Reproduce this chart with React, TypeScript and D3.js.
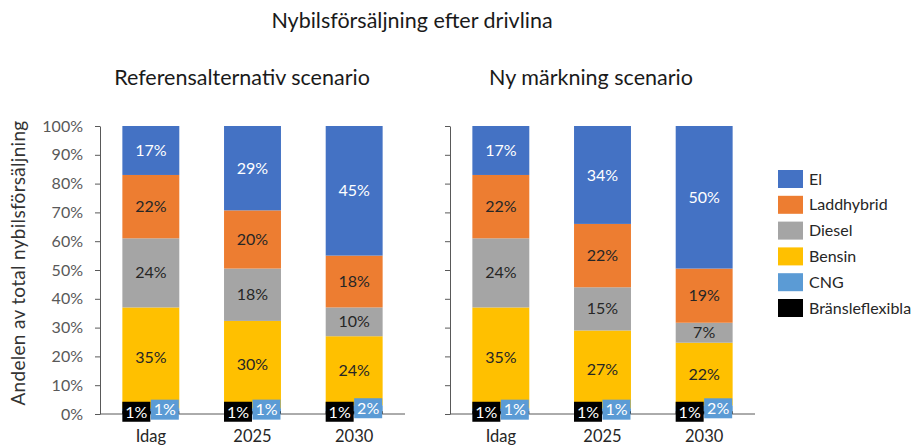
import React, { useEffect, useRef } from "react";
import * as d3 from "d3";

const categories = ["Idag", "2025", "2030"];
const seriesNames = ["Bränsleflexibla", "CNG", "Bensin", "Diesel", "Laddhybrid", "El"];
const seriesColors = ["#000000", "#5b9bd5", "#ffc000", "#a5a5a5", "#ed7d31", "#4472c4"];

// percentages per category (Idag, 2025, 2030)
const refFlex = [1, 1, 1];
const refCng = [1, 1, 2];
const refBensin = [35, 30, 24];
const refDiesel = [24, 18, 10];
const refLadd = [22, 20, 18];
const refEl = [17, 29, 45];

const nyFlex = [1, 1, 1];
const nyCng = [1, 1, 2];
const nyBensin = [35, 27, 22];
const nyDiesel = [24, 15, 7];
const nyLadd = [22, 22, 19];
const nyEl = [17, 34, 50];

const scenarios = [
  { title: "Referensalternativ scenario", series: [refFlex, refCng, refBensin, refDiesel, refLadd, refEl] },
  { title: "Ny märkning scenario", series: [nyFlex, nyCng, nyBensin, nyDiesel, nyLadd, nyEl] },
];

const yTicks = [0, 0.1, 0.2, 0.3, 0.4, 0.5, 0.6, 0.7, 0.8, 0.9, 1];

const FONT = "Lato, 'Open Sans', sans-serif";

const App = () => {
  const svgRef = useRef<SVGSVGElement>(null);

  useEffect(() => {
    const svg = d3.select(svgRef.current);
    svg.selectAll("*").remove();
    svg.style("font-family", FONT);

    const top = 126, bottom = 414;
    const y = d3.scaleLinear().domain([0, 1]).range([bottom, top]);
    const panelX = [[100, 405], [450, 755]];

    svg.append("text")
      .attr("x", 412).attr("y", 28)
      .attr("text-anchor", "middle")
      .attr("font-size", 21.5)
      .attr("fill", "#1a1a1a")
      .text("Nybilsförsäljning efter drivlina");

    // y axis title
    svg.append("text")
      .attr("transform", `translate(25,${(top + bottom) / 2 - 7}) rotate(-90)`)
      .attr("text-anchor", "middle")
      .attr("font-size", 19)
      .attr("letter-spacing", 0.3)
      .attr("fill", "#333333")
      .text("Andelen av total nybilsförsäljning");

    scenarios.forEach((sc, si) => {
      const [x0, x1] = panelX[si];
      const x = d3.scaleBand().domain(categories).range([x0, x1]).paddingInner(0.44).paddingOuter(0.22);
      const g = svg.append("g");

      g.append("text")
        .attr("x", si === 0 ? 242 : 591).attr("y", 85)
        .attr("text-anchor", "middle")
        .attr("font-size", 21.5)
        .attr("fill", "#1a1a1a")
        .text(sc.title);

      const rows = categories.map((c, i) => {
        const r: any = { cat: c };
        seriesNames.forEach((s, k) => (r[s] = sc.series[k][i]));
        return r;
      });
      const stacked = d3.stack().keys(seriesNames).offset(d3.stackOffsetExpand)(rows);

      stacked.forEach((layer, k) => {
        g.selectAll(null)
          .data(layer)
          .join("rect")
          .attr("x", (d: any) => x(d.data.cat)!)
          .attr("width", x.bandwidth())
          .attr("y", (d) => y(d[1]))
          .attr("height", (d) => y(d[0]) - y(d[1]))
          .attr("fill", seriesColors[k]);
      });

      // axes
      const yAxis = g.append("g").attr("transform", `translate(${x0},0)`)
        .call(d3.axisLeft(y).tickValues(yTicks).tickFormat((d) => `${Math.round(+d * 100)}%`).tickSize(5).tickSizeOuter(0));
      yAxis.select(".domain").attr("stroke", "#595959");
      yAxis.selectAll(".tick line").attr("stroke", "#595959");
      if (si === 0) {
        yAxis.selectAll(".tick text").attr("font-size", 16).attr("fill", "#595959").attr("font-family", FONT).attr("x", -17);
      } else {
        yAxis.selectAll(".tick text").remove();
      }

      g.append("line")
        .attr("x1", x0).attr("x2", x1)
        .attr("y1", bottom).attr("y2", bottom)
        .attr("stroke", "#595959");

      categories.forEach((c) => {
        g.append("text")
          .attr("x", x(c)! + x.bandwidth() / 2)
          .attr("y", 442)
          .attr("text-anchor", "middle")
          .attr("font-size", 16.5)
          .attr("fill", "#262626")
          .text(c);
      });

      // labels in big segments
      stacked.forEach((layer, k) => {
        if (k < 2) return;
        layer.forEach((d: any, i) => {
          g.append("text")
            .attr("x", x(d.data.cat)! + x.bandwidth() / 2)
            .attr("y", (y(d[0]) + y(d[1])) / 2)
            .attr("dy", "0.35em")
            .attr("text-anchor", "middle")
            .attr("font-size", 16)
            .attr("fill", k === 5 ? "#ffffff" : "#262626")
            .text(`${sc.series[k][i]}%`);
        });
      });

      // boxed labels for the two small bottom segments
      [0, 1].forEach((k) => {
        stacked[k].forEach((d: any, i) => {
          const cx = x(d.data.cat)! + x.bandwidth() / 2 + (k === 0 ? -14.5 : 14);
          const cy = (y(d[0]) + y(d[1])) / 2 - (k === 0 ? 0.8 : 0);
          g.append("rect")
            .attr("x", cx - 14).attr("y", cy - 10)
            .attr("width", 28).attr("height", 20)
            .attr("fill", seriesColors[k]);
          g.append("text")
            .attr("x", cx).attr("y", cy)
            .attr("dy", "0.36em")
            .attr("text-anchor", "middle")
            .attr("font-size", 16)
            .attr("fill", "#ffffff")
            .text(`${sc.series[k][i]}%`);
        });
      });
    });

    // legend, top series first
    const legend = svg.append("g").attr("transform", "translate(778,170)");
    const order = d3.range(seriesNames.length).reverse();
    order.forEach((k, j) => {
      const row = legend.append("g").attr("transform", `translate(0,${j * 25.8})`);
      row.append("rect").attr("width", 25).attr("height", 18).attr("fill", seriesColors[k]);
      row.append("text")
        .attr("x", 31).attr("y", 9)
        .attr("dy", "0.35em")
        .attr("font-size", 16)
        .attr("fill", "#262626")
        .text(seriesNames[k]);
    });
  }, []);

  return (
    <svg
      ref={svgRef}
      width={915}
      height={447}
      style={{ position: "absolute", left: 0, top: 0, background: "#fff" }}
    />
  );
};

export default App;
